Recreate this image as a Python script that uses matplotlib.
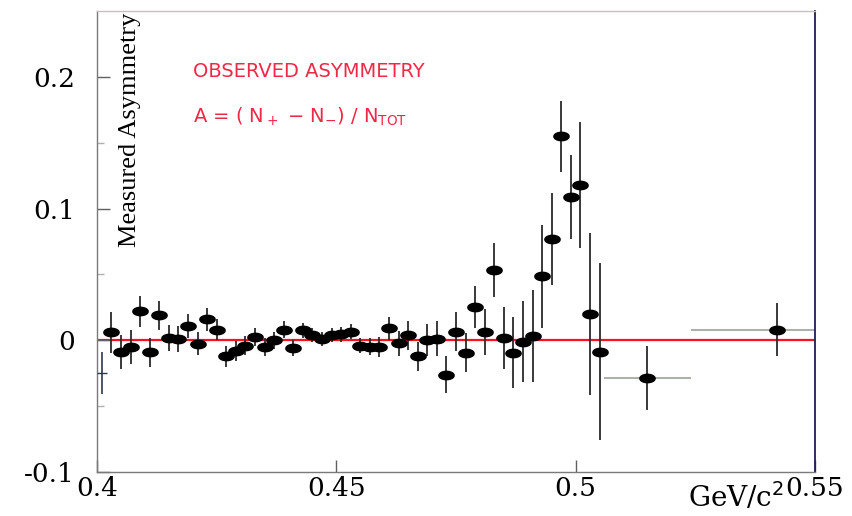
import numpy as np
import matplotlib.pyplot as plt
from matplotlib.path import Path

# narrow bins (GeV/c^2), measured asymmetry and its error
mass = np.round(np.arange(0.403, 0.5055, 0.002), 3)
asym = [0.006, -0.009, -0.005, 0.022, -0.009, 0.019, 0.0015, 0.001, 0.011, -0.0025,
        0.016, 0.008, -0.012, -0.008, -0.004, 0.0025, -0.005, 0.0, 0.008, -0.006,
        0.0076, 0.004, 0.001, 0.004, 0.0046, 0.0066, -0.004, -0.005, -0.005, 0.009,
        -0.0023, 0.004, -0.012, 0.0, 0.0013, -0.026, 0.0066, -0.0093, 0.0255, 0.0063,
        0.053, 0.002, -0.0093, -0.001, 0.0033, 0.0487, 0.077, 0.1548, 0.1086, 0.118,
        0.0197, -0.0086]
asym_err = [0.0155, 0.013, 0.013, 0.012, 0.011, 0.011, 0.010, 0.0097, 0.009, 0.009,
            0.0087, 0.008, 0.008, 0.0076, 0.0072, 0.0066, 0.007, 0.0066, 0.0066, 0.0063,
            0.0057, 0.005, 0.0055, 0.0055, 0.0057, 0.0057, 0.006, 0.0065, 0.0078, 0.0086,
            0.0093, 0.011, 0.011, 0.012, 0.0135, 0.0144, 0.0145, 0.0145, 0.0158, 0.0177,
            0.0205, 0.0236, 0.027, 0.031, 0.035, 0.039, 0.035, 0.027, 0.032, 0.048,
            0.0616, 0.067]

# first bin (drawn without the filled marker)
first_mass, first_asym, first_err = 0.401, -0.025, 0.016

# wide bins above the peak
wide_mass = [0.515, 0.542]
wide_halfwidth = [0.009, 0.018]
wide_asym = [-0.029, 0.008]
wide_err = [0.0243, 0.020]

xticks = [0.4, 0.45, 0.5, 0.55]
xticklabels = ['0.4', '0.45', '0.5', '0.55']
yticks = [-0.1, 0, 0.1, 0.2]
yticklabels = ['-0.1', '0', '0.1', '0.2']

t = np.linspace(0, 2 * np.pi, 60)
ellipse = Path(np.column_stack([np.cos(t), 0.55 * np.sin(t)]))

fig = plt.figure(figsize=(8.53, 5.16), dpi=100)
ax = fig.add_axes([97 / 853, 44 / 516, 718 / 853, 461 / 516])

ax.axhline(0, color='#ff1020', lw=1.6, zorder=1)

ax.errorbar(first_mass, first_asym, yerr=first_err, fmt='_', ms=7, color='#303848',
            ecolor='#303848', elinewidth=1.2, capsize=0, zorder=3)
ax.errorbar(mass, asym, yerr=asym_err, fmt='none', ecolor='#2a2a2a',
            elinewidth=1.3, capsize=0, zorder=2)
ax.plot(mass, asym, linestyle='none', marker=ellipse, ms=11, color='black', zorder=4)

ax.errorbar(wide_mass, wide_asym, xerr=wide_halfwidth, fmt='none', ecolor='#a8b0a8',
            elinewidth=1.4, ls=':', capsize=0, zorder=2)
ax.errorbar(wide_mass, wide_asym, yerr=wide_err, fmt='none', ecolor='#2a2a2a',
            elinewidth=1.3, capsize=0, zorder=2)
ax.plot(wide_mass, wide_asym, linestyle='none', marker=ellipse, ms=11, color='black', zorder=4)

ax.set_xlim(0.4, 0.55)
ax.set_ylim(-0.1, 0.25)
ax.set_xticks(xticks)
ax.set_xticklabels(xticklabels, family='DejaVu Serif', fontsize=19)
ax.set_yticks(yticks)
ax.set_yticklabels(yticklabels, family='DejaVu Serif', fontsize=19)
ax.set_yticks([-0.05, 0.05, 0.15], minor=True)
ax.tick_params(axis='both', which='major', direction='in', length=9, width=1,
               color='#606060')
ax.tick_params(axis='y', which='major', pad=16)
ax.tick_params(axis='x', which='major', pad=3)
ax.tick_params(axis='y', which='minor', direction='in', length=5, width=1,
               color='#b0b0b0')

for side in ['left', 'bottom', 'top']:
    ax.spines[side].set_color('#7a7a7a')
    ax.spines[side].set_linewidth(1.0)
ax.spines['top'].set_color('#c8c0c0')
ax.spines['right'].set_color('#202048')
ax.spines['right'].set_linewidth(1.3)

ax.text(0.4069, 0.16, 'Measured Asymmetry', rotation=90, family='Liberation Serif',
        fontsize=19, ha='center', va='center')
ax.text(0.420, 0.204, 'OBSERVED ASYMMETRY', color='#f02848', fontsize=14,
        ha='left', va='center')
ax.text(0.420, 0.170, r'A = ( N$_+$ $-$ N$_{-}$) / N$_{\mathrm{TOT}}$', color='#f02848',
        fontsize=14, ha='left', va='center')

fig.text(688 / 853, 1 - 507 / 516, r'GeV/c$^2$', family='DejaVu Serif', fontsize=20,
         ha='left', va='baseline')

fig.savefig('out.png', dpi=100)
